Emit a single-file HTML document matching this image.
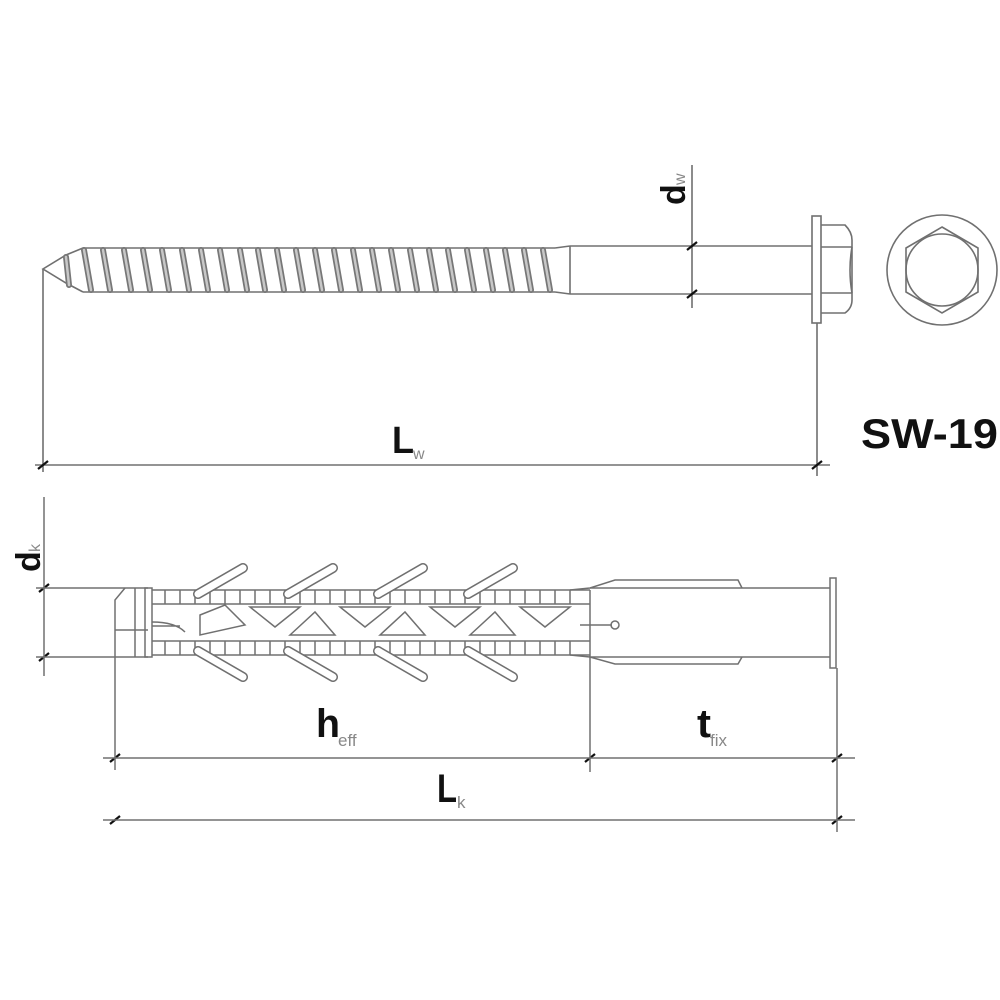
<!DOCTYPE html>
<html><head><style>
html,body{margin:0;padding:0;background:#fff;}
svg{display:block;}
.b{font-family:"Liberation Sans Narrow","Liberation Sans",sans-serif;font-weight:bold;fill:#111;}
.s{font-family:"Liberation Sans Narrow","Liberation Sans",sans-serif;fill:#888;}
</style></head><body>
<svg width="1000" height="1000" viewBox="0 0 1000 1000" xmlns="http://www.w3.org/2000/svg">
<g fill="none" stroke="#707070" stroke-width="1.6">
<line x1="83" y1="248" x2="555" y2="248"/>
<line x1="83" y1="292" x2="555" y2="292"/>
<polyline points="83,248 66,255 43,269 66,283 83,292"/>
<line x1="43" y1="269" x2="43" y2="472"/>
<line x1="555" y1="248" x2="570" y2="246"/>
<line x1="555" y1="292" x2="570" y2="294"/>
<line x1="570" y1="246" x2="570" y2="294"/>
<line x1="570" y1="246" x2="812" y2="246"/>
<line x1="570" y1="294" x2="812" y2="294"/>
<rect x="812" y="216" width="9" height="107"/>
<path d="M821,225 H845 Q852,232 852,240 V300 Q852,308 845,313 H821"/>
<line x1="821" y1="247" x2="852" y2="247"/>
<line x1="821" y1="293" x2="852" y2="293"/>
<path d="M852,247 Q848,270 852,293"/>
<line x1="817" y1="323" x2="817" y2="476"/>
<line x1="692" y1="165" x2="692" y2="308"/>
<circle cx="942" cy="270" r="55"/>
<polygon points="942,227 978,248 978,292 942,313 906,292 906,248"/>
<circle cx="942" cy="270" r="36"/>
<line x1="35" y1="465" x2="830" y2="465"/>
</g>
<g stroke-linecap="round" id="thr">
<g stroke="#777" stroke-width="6">
<line x1="66" y1="257" x2="69" y2="285"/>
<line x1="84" y1="250" x2="91" y2="290"/><line x1="103" y1="250" x2="110" y2="290"/><line x1="124" y1="250" x2="131" y2="290"/><line x1="143" y1="250" x2="150" y2="290"/><line x1="162" y1="250" x2="169" y2="290"/><line x1="182" y1="250" x2="189" y2="290"/><line x1="201" y1="250" x2="208" y2="290"/><line x1="220" y1="250" x2="227" y2="290"/><line x1="240" y1="250" x2="247" y2="290"/><line x1="258" y1="250" x2="265" y2="290"/><line x1="277" y1="250" x2="284" y2="290"/><line x1="296" y1="250" x2="303" y2="290"/><line x1="315" y1="250" x2="322" y2="290"/><line x1="334" y1="250" x2="341" y2="290"/><line x1="353" y1="250" x2="360" y2="290"/><line x1="372" y1="250" x2="379" y2="290"/><line x1="391" y1="250" x2="398" y2="290"/><line x1="410" y1="250" x2="417" y2="290"/><line x1="429" y1="250" x2="436" y2="290"/><line x1="448" y1="250" x2="455" y2="290"/><line x1="467" y1="250" x2="474" y2="290"/><line x1="486" y1="250" x2="493" y2="290"/><line x1="505" y1="250" x2="512" y2="290"/><line x1="524" y1="250" x2="531" y2="290"/><line x1="543" y1="250" x2="550" y2="290"/>
</g>
<g stroke="#c8c8c8" stroke-width="2.5">
<line x1="66" y1="257" x2="69" y2="285"/>
<line x1="84" y1="250" x2="91" y2="290"/><line x1="103" y1="250" x2="110" y2="290"/><line x1="124" y1="250" x2="131" y2="290"/><line x1="143" y1="250" x2="150" y2="290"/><line x1="162" y1="250" x2="169" y2="290"/><line x1="182" y1="250" x2="189" y2="290"/><line x1="201" y1="250" x2="208" y2="290"/><line x1="220" y1="250" x2="227" y2="290"/><line x1="240" y1="250" x2="247" y2="290"/><line x1="258" y1="250" x2="265" y2="290"/><line x1="277" y1="250" x2="284" y2="290"/><line x1="296" y1="250" x2="303" y2="290"/><line x1="315" y1="250" x2="322" y2="290"/><line x1="334" y1="250" x2="341" y2="290"/><line x1="353" y1="250" x2="360" y2="290"/><line x1="372" y1="250" x2="379" y2="290"/><line x1="391" y1="250" x2="398" y2="290"/><line x1="410" y1="250" x2="417" y2="290"/><line x1="429" y1="250" x2="436" y2="290"/><line x1="448" y1="250" x2="455" y2="290"/><line x1="467" y1="250" x2="474" y2="290"/><line x1="486" y1="250" x2="493" y2="290"/><line x1="505" y1="250" x2="512" y2="290"/><line x1="524" y1="250" x2="531" y2="290"/><line x1="543" y1="250" x2="550" y2="290"/>
</g>
</g>
<g stroke="#111" stroke-width="2.2">
<line x1="687" y1="250" x2="697" y2="242"/><line x1="687" y1="298" x2="697" y2="290"/>
<line x1="38" y1="469" x2="48" y2="461"/><line x1="812" y1="469" x2="822" y2="461"/>
<line x1="39" y1="592" x2="49" y2="584"/><line x1="39" y1="661" x2="49" y2="653"/>
<line x1="110" y1="762" x2="120" y2="754"/><line x1="585" y1="762" x2="595" y2="754"/><line x1="832" y1="762" x2="842" y2="754"/>
<line x1="110" y1="824" x2="120" y2="816"/><line x1="832" y1="824" x2="842" y2="816"/>
</g>
<g fill="none" stroke="#707070" stroke-width="1.5">
<line x1="44" y1="497" x2="44" y2="676"/>
<line x1="36" y1="588" x2="148" y2="588"/>
<line x1="36" y1="657" x2="148" y2="657"/>
<path d="M115,770 V600 L125,588 M115,630 H148"/>
<line x1="135" y1="588" x2="135" y2="657"/>
<rect x="145" y="588" width="7" height="69"/>
<path d="M152,590 H590 M152,604 H590 M152,641 H590 M152,655 H590"/>
<path d="M165,590V604 M180,590V604 M195,590V604 M210,590V604 M225,590V604 M240,590V604 M255,590V604 M270,590V604 M285,590V604 M300,590V604 M315,590V604 M330,590V604 M345,590V604 M360,590V604 M375,590V604 M390,590V604 M405,590V604 M420,590V604 M435,590V604 M450,590V604 M465,590V604 M480,590V604 M495,590V604 M510,590V604 M525,590V604 M540,590V604 M555,590V604 M570,590V604"/>
<path d="M165,641V655 M180,641V655 M195,641V655 M210,641V655 M225,641V655 M240,641V655 M255,641V655 M270,641V655 M285,641V655 M300,641V655 M315,641V655 M330,641V655 M345,641V655 M360,641V655 M375,641V655 M390,641V655 M405,641V655 M420,641V655 M435,641V655 M450,641V655 M465,641V655 M480,641V655 M495,641V655 M510,641V655 M525,641V655 M540,641V655 M555,641V655 M570,641V655"/>
<path d="M200,615 L225,605 L245,625 L200,635 Z"/>
<path d="M250,607 H300 L275,627 Z M290,635 L315,612 L335,635 Z M340,607 H390 L365,627 Z M380,635 L405,612 L425,635 Z M430,607 H480 L455,627 Z M470,635 L495,612 L515,635 Z M520,607 H570 L545,627 Z"/>
<path d="M152,622 Q175,622 185,632 M152,626 H180"/>
<path d="M580,625 H612"/><circle cx="615" cy="625" r="4"/>
<path d="M590,590 V657 M570,590 L590,588 L615,580 H738 L742,588 M570,655 L590,657 L615,664 H738 L742,657"/>
<line x1="590" y1="588" x2="830" y2="588"/>
<line x1="590" y1="657" x2="830" y2="657"/>
<rect x="830" y="578" width="6" height="90"/>
<line x1="590" y1="657" x2="590" y2="772"/>
<line x1="837" y1="668" x2="837" y2="832"/>
<line x1="103" y1="758" x2="855" y2="758"/>
<line x1="103" y1="820" x2="855" y2="820"/>
</g>
<g stroke-linecap="round" fill="none">
<g stroke="#707070" stroke-width="10">
<path d="M198,594 L243,568 M288,594 L333,568 M378,594 L423,568 M468,594 L513,568 M198,651 L243,677 M288,651 L333,677 M378,651 L423,677 M468,651 L513,677"/>
</g>
<g stroke="#fff" stroke-width="7">
<path d="M198,594 L243,568 M288,594 L333,568 M378,594 L423,568 M468,594 L513,568 M198,651 L243,677 M288,651 L333,677 M378,651 L423,677 M468,651 L513,677"/>
</g>
</g>
<text class="b" font-size="34" transform="translate(685,205) rotate(-90)">d</text>
<text class="s" font-size="16" transform="translate(685,185) rotate(-90)">w</text>
<text class="b" font-size="34" transform="translate(40,572) rotate(-90)">d</text>
<text class="s" font-size="16" transform="translate(40,552) rotate(-90)">k</text>
<text class="b" font-size="38" x="392" y="453" textLength="22" lengthAdjust="spacingAndGlyphs">L</text><text class="s" font-size="16" x="413" y="459">w</text>
<text class="b" font-size="42" x="861" y="448" textLength="137" lengthAdjust="spacingAndGlyphs">SW-19</text>
<text class="b" font-size="40" x="316" y="737" textLength="24" lengthAdjust="spacingAndGlyphs">h</text><text class="s" font-size="17" x="338" y="746">eff</text>
<text class="b" font-size="40" x="697" y="737" textLength="14" lengthAdjust="spacingAndGlyphs">t</text><text class="s" font-size="17" x="710" y="746">fix</text>
<text class="b" font-size="40" x="437" y="802" textLength="20" lengthAdjust="spacingAndGlyphs">L</text><text class="s" font-size="17" x="457" y="808">k</text>
</svg>
</body></html>
